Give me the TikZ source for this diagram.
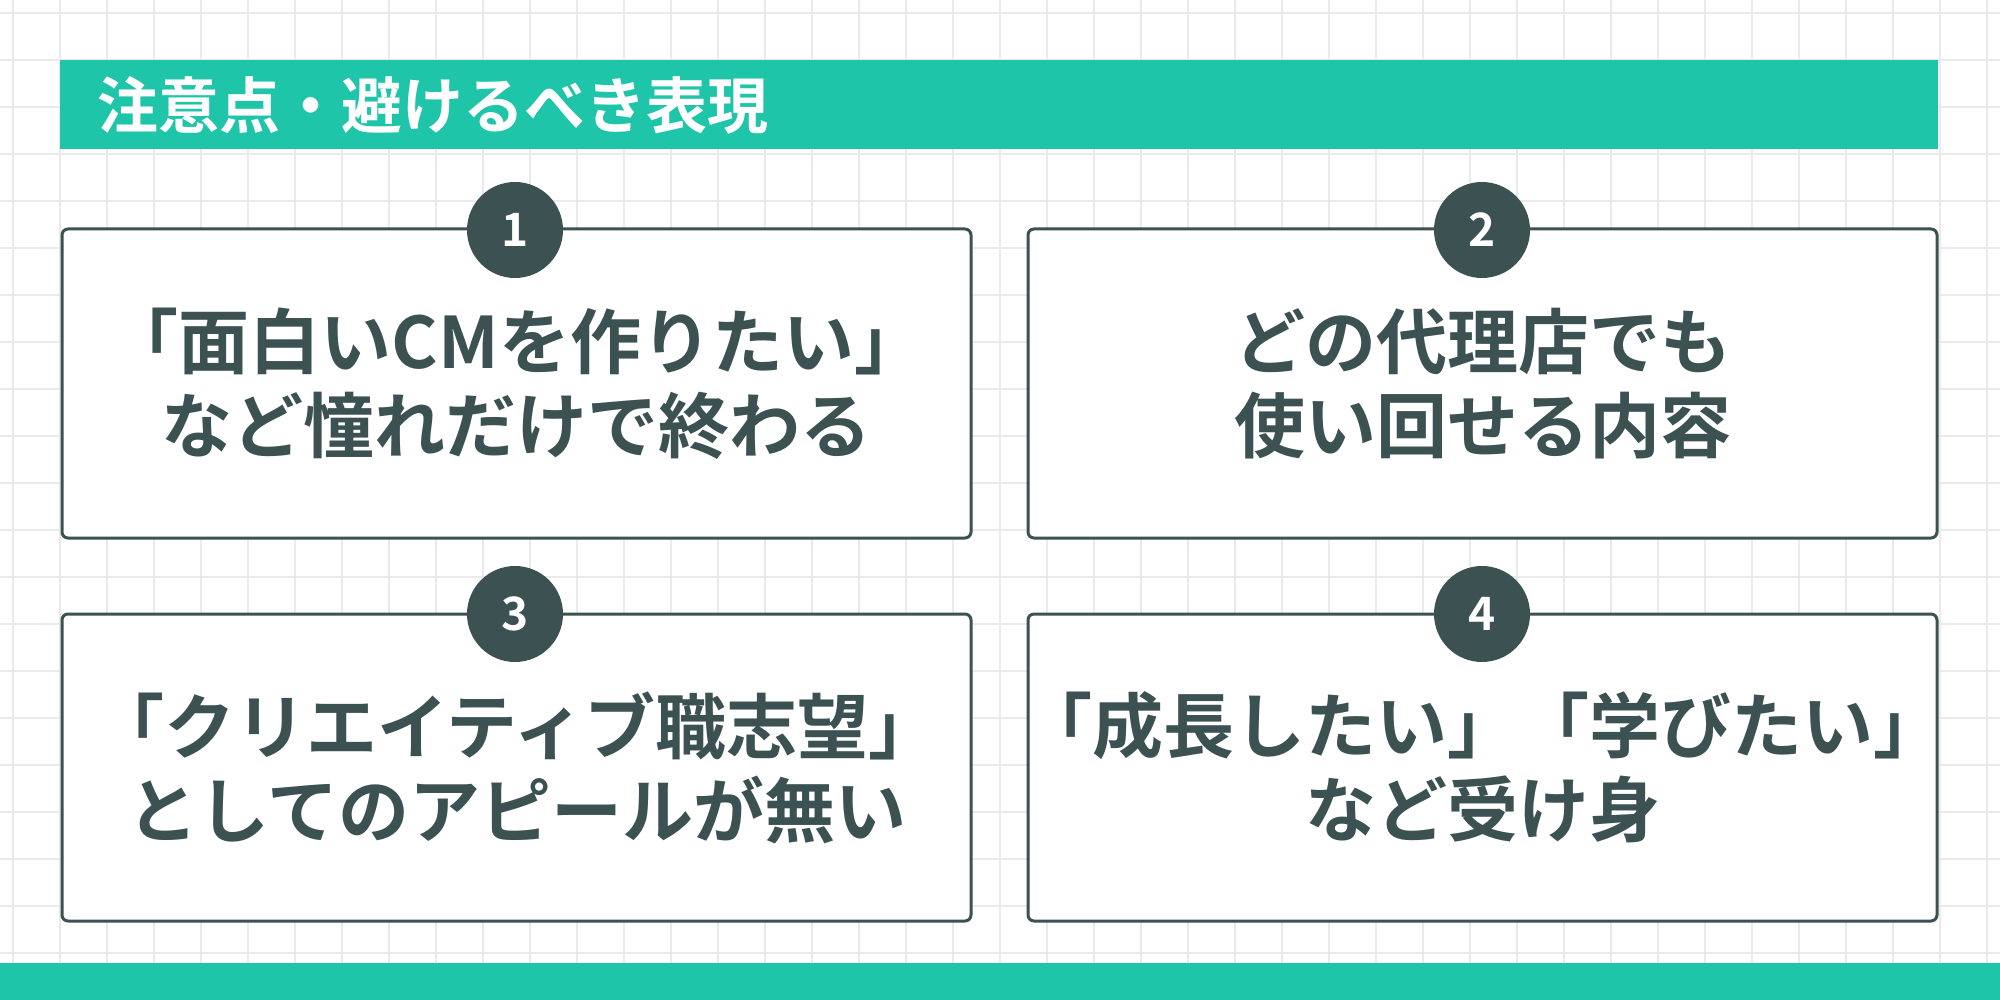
\documentclass[tikz,border=0pt]{standalone}
\usepackage{fontspec}
\newfontfamily\jp{Noto Sans CJK JP Bold}
\definecolor{teal}{HTML}{1EC5A8}
\definecolor{dark}{HTML}{3C5152}
\definecolor{gridc}{HTML}{EAEAEA}
\begin{document}
\begin{tikzpicture}[x=1pt,y=-1pt,
  card/.style={draw=dark,line width=3pt,rounded corners=6pt,fill=white},
  num/.style={circle,fill=dark,minimum size=96pt,inner sep=0pt,text=white,font=\jp\fontsize{46}{46}\selectfont},
  body/.style={text=dark,align=center,font=\jp\fontsize{71}{84}\selectfont}]
\useasboundingbox (0,0) rectangle (2000,1000);
\fill[white] (0,0) rectangle (2000,1000);
\foreach \i in {0,...,43} {\draw[gridc,line width=1.2pt] (13+\i*47,0) -- (13+\i*47,1000);}
\foreach \j in {0,...,21} {\draw[gridc,line width=1.2pt] (0,13+\j*47) -- (2000,13+\j*47);}
\fill[teal] (60,60) rectangle (1938,149);
\node[anchor=west,text=white,font=\jp\fontsize{61}{61}\selectfont,inner sep=0pt] (title) at (97,105) {注意点・避けるべき表現};
\fill[teal] (0,963) rectangle (2000,1000);
\draw[card] (62,229) rectangle (971,538) node[midway,body] (t1) {「面白いCMを作りたい」\\など憧れだけで終わる};
\draw[card] (1028,229) rectangle (1937,538) node[midway,body] (t2) {どの代理店でも\\使い回せる内容};
\draw[card] (62,614) rectangle (971,921) node[midway,body] (t3) {「クリエイティブ職志望」\\としてのアピールが無い};
\draw[card] (1028,614) rectangle (1937,921) node[midway,body] (t4) {「成長したい」「学びたい」\\など受け身};
\node[num] (n1) at (515,230) {1};
\node[num] (n2) at (1482,230) {2};
\node[num] (n3) at (515,614) {3};
\node[num] (n4) at (1482,614) {4};
\end{tikzpicture}
\end{document}
